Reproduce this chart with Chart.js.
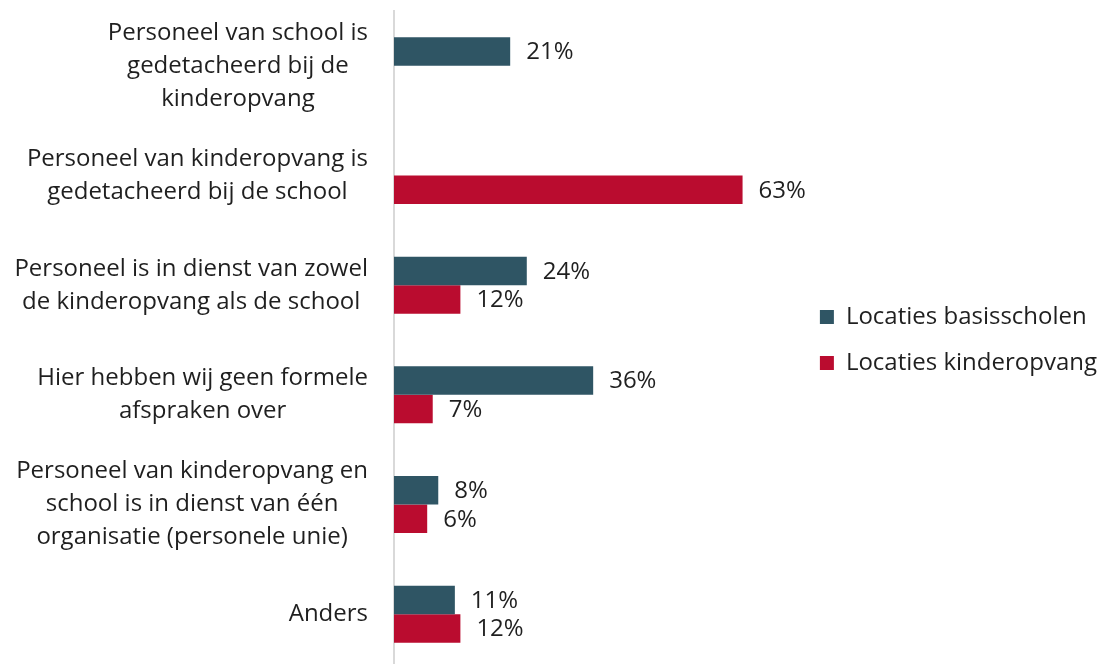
<!DOCTYPE html>
<html>
<head>
<meta charset="utf-8">
<script src="https://cdn.jsdelivr.net/npm/chart.js@4.4.1/dist/chart.umd.min.js"></script>
<style>
  html, body { margin: 0; padding: 0; background: #fff; overflow: hidden; }
</style>
</head>
<body>
<canvas id="myChart" width="1107" height="669"></canvas>
<script>
// categories (each label split into its lines)
const categories = [
    ['Personeel van school is', 'gedetacheerd bij de', 'kinderopvang'],
    ['Personeel van kinderopvang is', 'gedetacheerd bij de school'],
    ['Personeel is in dienst van zowel', 'de kinderopvang als de school'],
    ['Hier hebben wij geen formele', 'afspraken over'],
    ['Personeel van kinderopvang en', 'school is in dienst van één', 'organisatie (personele unie)'],
    ['Anders']
];
const seriesNames = ['Locaties basisscholen', 'Locaties kinderopvang'];
// percentages, null = not asked for that group
const basisscholen = [21, null, 24, 36, 8, 11];
const kinderopvang = [null, 63, 12, 7, 6, 12];

const FONT = '"Open Sans", sans-serif';
const TEXT = '#1f1f1f';

// category labels: block right aligned, lines centred inside the block
const categoryLabels = {
    id: 'categoryLabels',
    afterDraw(chart) {
        const ctx = chart.ctx;
        const yScale = chart.scales.y;
        const right = chart.chartArea.left - 26;
        const lh = 33;
        ctx.save();
        ctx.font = '24px ' + FONT;
        ctx.fillStyle = TEXT;
        ctx.textAlign = 'center';
        ctx.textBaseline = 'middle';
        categories.forEach((lines, i) => {
            const y = yScale.getPixelForValue(i);
            const w = Math.max(...lines.map(l => ctx.measureText(l).width));
            const cx = right - w / 2;
            lines.forEach((line, j) => {
                ctx.fillText(line, cx, y + (j - (lines.length - 1) / 2) * lh);
            });
        });
        ctx.restore();
    }
};

// value labels at the end of every bar
const valueLabels = {
    id: 'valueLabels',
    afterDatasetsDraw(chart) {
        const ctx = chart.ctx;
        ctx.save();
        ctx.font = '24px ' + FONT;
        ctx.fillStyle = TEXT;
        ctx.textAlign = 'left';
        ctx.textBaseline = 'middle';
        chart.data.datasets.forEach((ds, d) => {
            chart.getDatasetMeta(d).data.forEach((bar, i) => {
                const v = ds.data[i];
                if (v === null) return;
                ctx.fillText(v + '%', bar.x + 16, bar.y + 1);
            });
        });
        ctx.restore();
    }
};

function draw() {
    let myChart = document.getElementById('myChart').getContext('2d');
    new Chart(myChart, {
        type: 'bar',
        data: {
            labels: categories,
            datasets: [{
                label: seriesNames[0],
                data: basisscholen,
                backgroundColor: '#2f5564'
            }, {
                label: seriesNames[1],
                data: kinderopvang,
                backgroundColor: '#ba0c2f'
            }]
        },
        options: {
            indexAxis: 'y',
            responsive: false,
            animation: false,
            categoryPercentage: 0.52,
            barPercentage: 1,
            layout: { padding: { left: 394, top: 11, right: 0, bottom: 0 } },
            scales: {
                x: {
                    display: false,
                    min: 0,
                    max: 73
                },
                y: {
                    ticks: { display: false },
                    grid: { display: false, drawTicks: false },
                    border: { display: true, color: '#d9d9d9', width: 2 }
                }
            },
            plugins: {
                tooltip: { enabled: false },
                legend: {
                    position: 'right',
                    maxWidth: 400,
                    labels: {
                        boxWidth: 14,
                        boxHeight: 14,
                        padding: 22,
                        color: TEXT,
                        font: { family: FONT, size: 24 }
                    }
                }
            }
        },
        plugins: [categoryLabels, valueLabels]
    });
}

document.fonts.load('24px "Open Sans"').then(draw, draw);
</script>
</body>
</html>
